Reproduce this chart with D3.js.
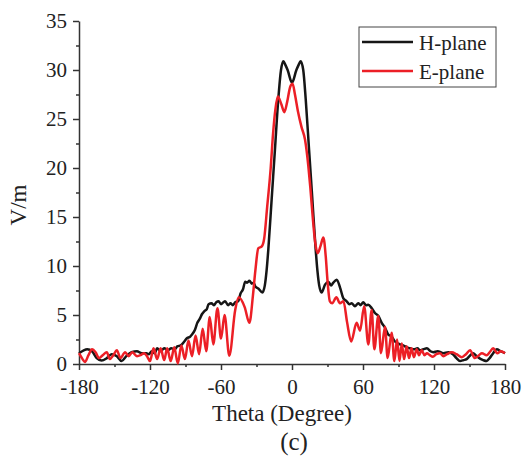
<!DOCTYPE html>
<html>
<head>
<meta charset="utf-8">
<script src="https://cdn.jsdelivr.net/npm/d3@7"></script>
<style>
  body { margin: 0; background: #fff; }
  svg text { font-family: "Liberation Serif", "Times New Roman", serif; fill: #222; }
</style>
</head>
<body>
<div id="chart"></div>
<script>
// DATA ------------------------------------
const xTicks = [-180, -120, -60, 0, 60, 120, 180];
const yTicks = [0, 5, 10, 15, 20, 25, 30, 35];
const seriesNames = ['H-plane', 'E-plane'];
const seriesColors = ['#161616', '#ec1f26'];

// [theta (deg), field (V/m)]
const hPlane = [
  [-180, 1.1], [-176, 1.4], [-173, 1.5], [-169, 1.3], [-165, 0.6], [-161, 0.35], [-156.5, 0.6],
  [-152.5, 1.0], [-148, 0.8], [-144, 0.3], [-140, 0.8], [-135.5, 1.2], [-131, 1.3], [-127, 1.1],
  [-123, 1.1], [-121, 1.0], [-118.5, 1.3], [-116, 1.1], [-114, 1.6], [-111, 1.3], [-108, 1.6],
  [-105, 1.4], [-102, 1.6], [-99, 1.5], [-97, 1.8], [-94, 1.9], [-91, 2.3], [-89, 2.6],
  [-86, 2.8], [-84.5, 3.0], [-82, 3.5], [-80, 4.2], [-78, 4.6], [-76, 5.1], [-74, 5.4],
  [-72, 5.6], [-70.5, 6.1], [-68, 6.2], [-66, 6.0], [-64, 6.3], [-62, 6.4], [-60, 6.1],
  [-58, 6.3], [-56.5, 6.4], [-54, 6.0], [-52, 6.2], [-50, 6.0], [-48, 6.3], [-45.5, 6.4],
  [-43.5, 7.2], [-41.5, 7.6], [-39.5, 8.4], [-38, 8.3], [-36, 8.5], [-34, 8.2], [-32.5, 8.3],
  [-31, 7.9], [-28.5, 7.7], [-25, 7.3], [-23, 8.0], [-21.5, 9.5], [-20, 11.7], [-17.2, 16.8],
  [-14.4, 21.9], [-11.6, 27], [-9.3, 30], [-7.3, 30.9], [-5.5, 30.5], [-3.7, 30], [0, 28.7],
  [3.7, 30], [5.5, 30.5], [7.3, 30.9], [9.5, 30], [11.6, 27], [14.4, 21.9], [17.2, 16.8],
  [20, 11.7], [21.5, 9.5], [23, 8.0], [25, 7.3], [27.9, 8.1], [30.7, 8.4], [33, 8.0],
  [34.9, 8.3], [37.8, 8.6], [40.6, 7.8], [43.4, 6.7], [46.2, 6.4], [48.5, 6.1], [50.4, 6.2],
  [53.2, 5.9], [56, 6.2], [58, 6.0], [60.2, 6.3], [62.5, 6.0], [64.5, 6.05], [67.3, 5.7],
  [70.1, 5.2], [73, 4.9], [75.8, 4.2], [78.6, 3.7], [81.4, 3.0], [84.2, 2.8], [87, 2.3],
  [91.3, 2.0], [94, 1.9], [97, 1.7], [99.7, 1.6], [103, 1.5], [106, 1.6], [108, 1.4],
  [111, 1.5], [114, 1.6], [117, 1.3], [119.4, 1.2], [123, 1.3], [128, 1.1], [132, 1.2],
  [136, 1.0], [139, 0.6], [142, 0.3], [145, 0.4], [147.6, 0.5], [150, 0.8], [153, 1.1],
  [156, 0.8], [158.9, 0.55], [161.5, 0.4], [164.5, 0.3], [167, 0.6], [170, 1.1], [173, 1.5],
  [176.5, 1.3], [180, 1.1]
];

const ePlane = [
  [-180, 1.1], [-177, 0.5], [-175, 0.2], [-172, 0.9], [-169, 1.5], [-166, 1.2], [-163, 0.6],
  [-160, 0.9], [-156.5, 1.2], [-154, 0.5], [-151, 0.9], [-148, 1.4], [-145, 0.6], [-141, 1.2],
  [-138, 0.8], [-135, 1.2], [-131, 0.8], [-128, 0.9], [-125, 1.1], [-122.5, 0.8], [-120, 0.3],
  [-117, 1.6], [-114, 0.5], [-111, 1.6], [-108, 0.4], [-105.5, 1.6], [-102.5, 0.3], [-99.5, 1.7],
  [-96.5, 0.05], [-93.5, 1.9], [-90.5, 0.5], [-87.5, 2.4], [-84.5, 0.8], [-81.5, 2.9], [-78.5, 1.0],
  [-75.5, 3.6], [-72.5, 1.3], [-69.5, 4.8], [-66.5, 2.0], [-63, 5.7], [-60, 2.6], [-57, 5.0],
  [-53, 0.85], [-48, 5.5], [-45, 6.8], [-40, 5.8], [-36, 4.2], [-33, 7], [-31, 9.5],
  [-28.5, 11.8], [-25.5, 12.0], [-23.5, 12.8], [-21, 16], [-18, 20], [-16, 23.5], [-14, 26],
  [-12, 27.3], [-9, 26.5], [-6.5, 25.7], [-4, 26.8], [-1.5, 28.3], [0.5, 28.6], [2.5, 27.5],
  [5, 25.8], [8, 24.2], [11, 22.9], [13.8, 20.2], [15.5, 18], [17.5, 15], [19.5, 12.5],
  [21.7, 11.3], [24, 12], [26.5, 12.9], [28.5, 11], [30, 8.5], [32, 6.4], [34, 6.2],
  [37.5, 6.8], [40.5, 6.2], [43.5, 6.4], [46.5, 4.3], [50, 2.3], [54.6, 4.2], [57.5, 3.4],
  [61, 5.9], [64.5, 2.0], [67.3, 5.5], [69.6, 1.5], [72.9, 4.9], [75.2, 1.1], [78.6, 3.8],
  [80.8, 0.6], [84.2, 3.2], [86.5, 0.3], [88.8, 2.5], [90.8, 0.3], [92.8, 2.1], [94.7, 0.5],
  [96.9, 1.8], [98.9, 0.6], [101, 1.6], [103, 0.7], [105.4, 1.5], [107.3, 0.9], [109.6, 1.4],
  [112, 0.9], [114, 1.1], [116.5, 0.9], [119, 0.75], [122, 1.0], [125, 1.1], [128, 0.8],
  [131, 1.0], [135, 1.2], [139, 1.0], [143.5, 0.7], [147, 1.0], [150.5, 1.4], [154.5, 0.6],
  [158, 0.9], [160.5, 1.1], [164.5, 0.9], [167, 1.2], [170, 1.6], [173.5, 1.1], [176.5, 1.3],
  [180, 1.1]
];

// CHART -----------------------------------
const W = 523, H = 464;
const margin = { top: 21, right: 18, bottom: 100, left: 79 };
const width = W - margin.left - margin.right;   // 426
const height = H - margin.top - margin.bottom;  // 343

const svg = d3.select('#chart').append('svg')
  .attr('width', W)
  .attr('height', H);

const g = svg.append('g')
  .attr('transform', `translate(${margin.left},${margin.top})`);

const x = d3.scaleLinear().domain([-180, 180]).range([0, width]);
const y = d3.scaleLinear().domain([0, 35]).range([height, 0]);

// minor ticks first, majors on top
g.append('g')
  .attr('transform', `translate(0,${height})`)
  .call(d3.axisBottom(x).tickValues(d3.range(-150, 180, 60)).tickSize(3).tickFormat(''))
  .call(a => a.select('.domain').remove());
g.append('g')
  .call(d3.axisLeft(y).tickValues(d3.range(2.5, 35, 5)).tickSize(3).tickFormat(''))
  .call(a => a.select('.domain').remove());

// plain hyphen for negatives, like the original
const xAxis = g.append('g')
  .attr('transform', `translate(0,${height})`)
  .call(d3.axisBottom(x).tickValues(xTicks).tickFormat(d => String(d))
    .tickSize(6).tickPadding(9).tickSizeOuter(0));
const yAxis = g.append('g')
  .call(d3.axisLeft(y).tickValues(yTicks).tickFormat(d => String(d))
    .tickSize(6).tickPadding(6).tickSizeOuter(0));

g.selectAll('.domain, .tick line').attr('stroke', '#333').attr('stroke-width', 1.5);
[xAxis, yAxis].forEach(a => a.selectAll('text')
  .style('font-family', '"Liberation Serif", serif')
  .style('font-size', '21px')
  .attr('fill', '#222'));

// curves
const line = d3.line()
  .x(d => x(d[0]))
  .y(d => y(d[1]))
  .curve(d3.curveMonotoneX);

[hPlane, ePlane].forEach((s, i) => {
  g.append('path')
    .datum(s)
    .attr('fill', 'none')
    .attr('stroke', seriesColors[i])
    .attr('stroke-width', 2.5)
    .attr('stroke-linejoin', 'round')
    .attr('d', line);
});

// axis titles
svg.append('text')
  .attr('x', 282).attr('y', 421)
  .attr('text-anchor', 'middle')
  .style('font-size', '23px')
  .text('Theta (Degree)');

svg.append('text')
  .attr('transform', 'translate(26,205) rotate(-90)')
  .attr('text-anchor', 'middle')
  .style('font-size', '23px')
  .text('V/m');

svg.append('text')
  .attr('x', 294).attr('y', 450)
  .attr('text-anchor', 'middle')
  .style('font-size', '25px')
  .text('(c)');

// legend
const legend = svg.append('g').attr('transform', 'translate(359,27)');
legend.append('rect')
  .attr('width', 137).attr('height', 60)
  .attr('fill', '#fff')
  .attr('stroke', '#444').attr('stroke-width', 1);
seriesNames.forEach((name, i) => {
  const row = legend.append('g').attr('transform', `translate(0,${15 + i * 29})`);
  row.append('line')
    .attr('x1', 3).attr('x2', 54)
    .attr('stroke', seriesColors[i]).attr('stroke-width', 2.5);
  row.append('text')
    .attr('x', 60).attr('y', 7.5)
    .style('font-size', '21px')
    .text(name);
});
</script>
</body>
</html>
